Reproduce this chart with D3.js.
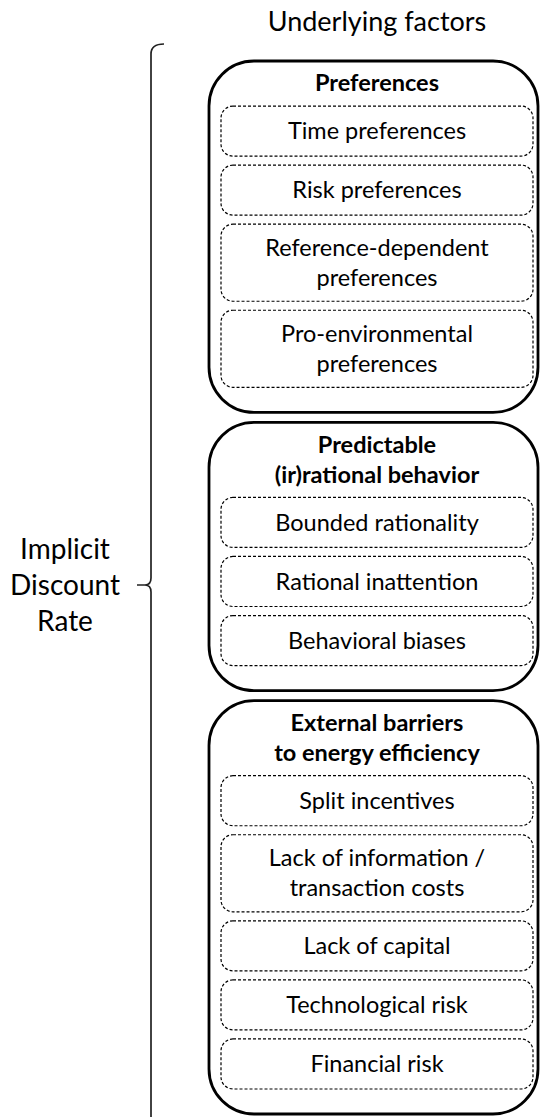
<!DOCTYPE html>
<html>
<head>
<meta charset="utf-8">
<script src="https://cdn.jsdelivr.net/npm/d3@7"></script>
<style>
  html, body { margin: 0; padding: 0; background: #fff; }
  text { font-family: Lato, "Open Sans", sans-serif; fill: #000; }
</style>
</head>
<body>
<script>
// ---- content ----
const headerLabel = "Underlying factors";
const rootLabel = ["Implicit", "Discount", "Rate"];
const groupTitles = [
  ["Preferences"],
  ["Predictable", "(ir)rational behavior"],
  ["External barriers", "to energy efficiency"]
];
const preferencesItems = [["Time preferences"], ["Risk preferences"], ["Reference-dependent", "preferences"], ["Pro-environmental", "preferences"]];
const behaviorItems = [["Bounded rationality"], ["Rational inattention"], ["Behavioral biases"]];
const barrierItems = [["Split incentives"], ["Lack of information /", "transaction costs"], ["Lack of capital"], ["Technological risk"], ["Financial risk"]];
const groupItems = [preferencesItems, behaviorItems, barrierItems];

// ---- layout constants (units) ----
const W = 541, H = 1117;
const BOX1 = 50, EXTRA_LINE = 27, GAP = 9, TITLE_LINE = 30;
const PAD_TOP = 7, PAD_MID = 8, PAD_BOT = 25, GROUP_GAP = 10;

// stack layout in abstract units
let cursor = 0;
const groups = groupTitles.map((titles, gi) => {
  const g = { titles, top: cursor, items: [] };
  let c = cursor + PAD_TOP;
  g.titleCenters = titles.map((t, i) => c + TITLE_LINE * i + TITLE_LINE / 2);
  c += TITLE_LINE * titles.length + PAD_MID;
  groupItems[gi].forEach((lines, ii) => {
    const h = BOX1 + EXTRA_LINE * (lines.length - 1);
    g.items.push({ lines, top: c, bottom: c + h });
    c += h + (ii < groupItems[gi].length - 1 ? GAP : 0);
  });
  c += PAD_BOT;
  g.bottom = c;
  cursor = c + GROUP_GAP;
  return g;
});
const total = groups[groups.length - 1].bottom;

const y = d3.scaleLinear().domain([0, total]).range([61, 1114]);
const x = d3.scaleLinear().domain([0, 1]).range([209, 538]);
const xi = d3.scaleLinear().domain([0, 1]).range([221, 533]);
const cx = (xi(0) + xi(1)) / 2;

const svg = d3.select("body").append("svg")
  .attr("width", W).attr("height", H)
  .attr("viewBox", `0 0 ${W} ${H}`);

// header
svg.append("text")
  .attr("x", cx).attr("y", 22).attr("dy", "0.35em")
  .attr("text-anchor", "middle")
  .style("font-size", "27px")
  .text(headerLabel);

// brace
const bx = 151, bTop = 46, bMid = 585, tip = 137;
const brace = d3.path();
brace.moveTo(164, bTop - 2);
brace.quadraticCurveTo(bx, bTop - 2, bx, bTop + 8);
brace.lineTo(bx, bMid - 7);
brace.quadraticCurveTo(bx, bMid, bx - 6, bMid);
brace.lineTo(tip, bMid);
brace.moveTo(bx - 6, bMid);
brace.quadraticCurveTo(bx, bMid, bx, bMid + 7);
brace.lineTo(bx, H + 10);
svg.append("path").attr("d", brace.toString())
  .attr("fill", "none").attr("stroke", "#222").attr("stroke-width", 1.7);

// root label
svg.append("g").selectAll("text").data(rootLabel).join("text")
  .attr("x", 65)
  .attr("y", (d, i) => bMid + (i - 1) * 36)
  .attr("dy", "0.35em")
  .attr("text-anchor", "middle")
  .style("font-size", "28px")
  .text(d => d);

// groups
const gSel = svg.append("g").selectAll("g.group").data(groups).join("g").attr("class", "group");

gSel.append("rect")
  .attr("x", x(0)).attr("width", x(1) - x(0))
  .attr("y", d => y(d.top)).attr("height", d => y(d.bottom) - y(d.top))
  .attr("rx", 45).attr("ry", 45)
  .attr("fill", "none").attr("stroke", "#000").attr("stroke-width", 2.8);

gSel.each(function (g) {
  const sel = d3.select(this);
  sel.selectAll("text.gt").data(g.titles).join("text")
    .attr("class", "gt")
    .attr("x", cx)
    .attr("y", (d, i) => y(g.titleCenters[i]))
    .attr("dy", "0.35em")
    .attr("text-anchor", "middle")
    .style("font-size", "23.5px").style("font-weight", "bold")
    .text(d => d);

  const it = sel.selectAll("g.item").data(g.items).join("g").attr("class", "item");
  it.append("rect")
    .attr("x", xi(0)).attr("width", xi(1) - xi(0))
    .attr("y", d => y(d.top)).attr("height", d => y(d.bottom) - y(d.top))
    .attr("rx", 12).attr("ry", 12)
    .attr("fill", "none").attr("stroke", "#000").attr("stroke-width", 1.2)
    .attr("stroke-dasharray", "3,2");
  it.each(function (d) {
    const mid = (y(d.top) + y(d.bottom)) / 2;
    const n = d.lines.length;
    d3.select(this).selectAll("text").data(d.lines).join("text")
      .attr("x", cx)
      .attr("y", (t, i) => mid + (i - (n - 1) / 2) * 30)
      .attr("dy", "0.35em")
      .attr("text-anchor", "middle")
      .style("font-size", "23.5px")
      .text(t => t);
  });
});
</script>
</body>
</html>
